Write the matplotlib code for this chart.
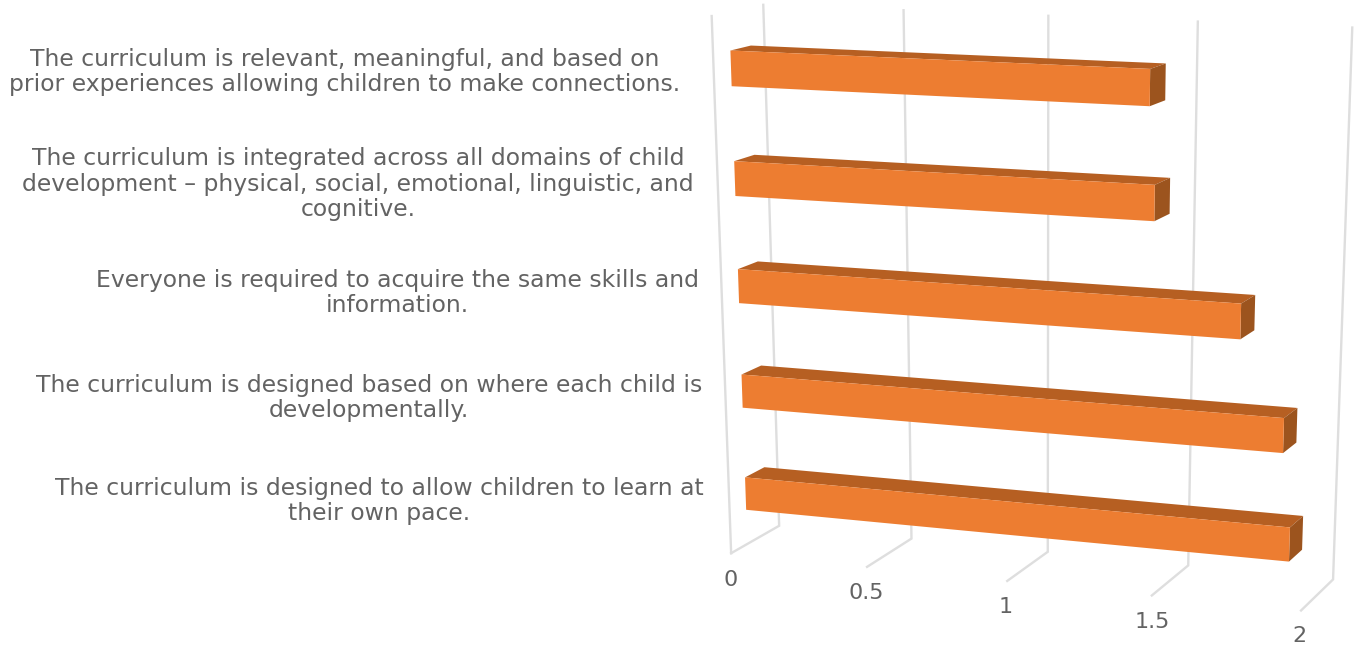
import numpy as np
import matplotlib
matplotlib.use('Agg')
import matplotlib.pyplot as plt
from matplotlib.patches import Polygon

# bars, bottom row first
labels = [
    'The curriculum is designed to allow children to learn at\ntheir own pace.',
    'The curriculum is designed based on where each child is\ndevelopmentally.',
    'Everyone is required to acquire the same skills and\ninformation.',
    'The curriculum is integrated across all domains of child\ndevelopment \u2013 physical, social, emotional, linguistic, and\ncognitive.',
    'The curriculum is relevant, meaningful, and based on\nprior experiences allowing children to make connections.',
]
values = [1.92, 1.89, 1.74, 1.45, 1.43]
ticks = [0, 0.5, 1, 1.5, 2]
tick_labels = ['0', '0.5', '1', '1.5', '2']

# label centres in the picture
label_x = [379, 369, 397, 358, 345]
label_y = [501, 398, 293, 184, 72]
tick_label_pos = [(731, 580), (866, 593), (1006, 607), (1152, 622), (1299, 636)]

# camera for the 3d box: (value, depth, height) -> pixel, fitted on the box corners
box_3d = [(0, 0, 0), (0, 0, 1), (0, 1, 0), (0, 1, 1), (0.5, 1, 0), (0.5, 1, 1), (0.5, 0, 0),
          (1, 1, 0), (1, 1, 1), (1, 0, 0), (1.5, 1, 0), (1.5, 1, 1), (1.5, 0, 0),
          (2, 1, 0), (2, 1, 1), (2, 0, 0)]
box_px = [(731, 553), (712, 16), (779, 526), (763, 5), (912, 538), (903, 10), (867, 567),
          (1048, 552), (1049, 16), (1007, 581), (1188, 566), (1198, 22), (1152, 595),
          (1333, 579), (1352, 27), (1301, 611)]

rows = []
for (v, d, h), (u, w) in zip(box_3d, box_px):
    rows.append([v, d, h, 1, 0, 0, 0, 0, -u * v, -u * d, -u * h, -u])
    rows.append([0, 0, 0, 0, v, d, h, 1, -w * v, -w * d, -w * h, -w])
P = np.linalg.svd(np.array(rows, dtype=float))[2][-1].reshape(3, 4)


def project(v, d, h):
    p = P @ np.array([v, d, h, 1.0])
    return p[0] / p[2], p[1] / p[2]


front, back = 0.33, 0.73
bar_h = 0.064
grid_col = '#dedede'
text_col = '#636363'

fig = plt.figure(figsize=(13.54, 6.46), dpi=100)
ax = fig.add_axes([0, 0, 1, 1])
ax.set_xlim(0, 1354)
ax.set_ylim(646, 0)
ax.axis('off')

# walls
for i, t in enumerate(ticks):
    a = project(t, 1, 1)
    b = project(t, 1, 0)
    c = project(t, 0, 0)
    ax.plot([a[0], b[0], c[0]], [a[1], b[1], c[1]], color=grid_col, lw=1.7, solid_joinstyle='miter')
a = project(0, 0, 1)
b = project(0, 0, 0)
ax.plot([a[0], b[0]], [a[1], b[1]], color=grid_col, lw=1.7)

# bars
for i, val in enumerate(values):
    h0 = 0.1 + 0.2 * i - bar_h / 2
    h1 = h0 + bar_h
    top = [project(0, front, h1), project(val, front, h1), project(val, back, h1), project(0, back, h1)]
    side = [project(val, front, h0), project(val, back, h0), project(val, back, h1), project(val, front, h1)]
    face = [project(0, front, h0), project(val, front, h0), project(val, front, h1), project(0, front, h1)]
    ax.add_patch(Polygon(top, closed=True, fc='#b65f22', ec='none', zorder=3))
    ax.add_patch(Polygon(side, closed=True, fc='#9c541e', ec='none', zorder=3))
    ax.add_patch(Polygon(face, closed=True, fc='#ed7d31', ec='none', zorder=4))

for lab, x, y in zip(labels, label_x, label_y):
    ax.text(x, y, lab, ha='center', va='center', fontsize=16.9, color=text_col, linespacing=1.15)

for lab, (x, y) in zip(tick_labels, tick_label_pos):
    ax.text(x, y, lab, ha='center', va='center', fontsize=16, color=text_col)

fig.savefig('out.png', dpi=100)
